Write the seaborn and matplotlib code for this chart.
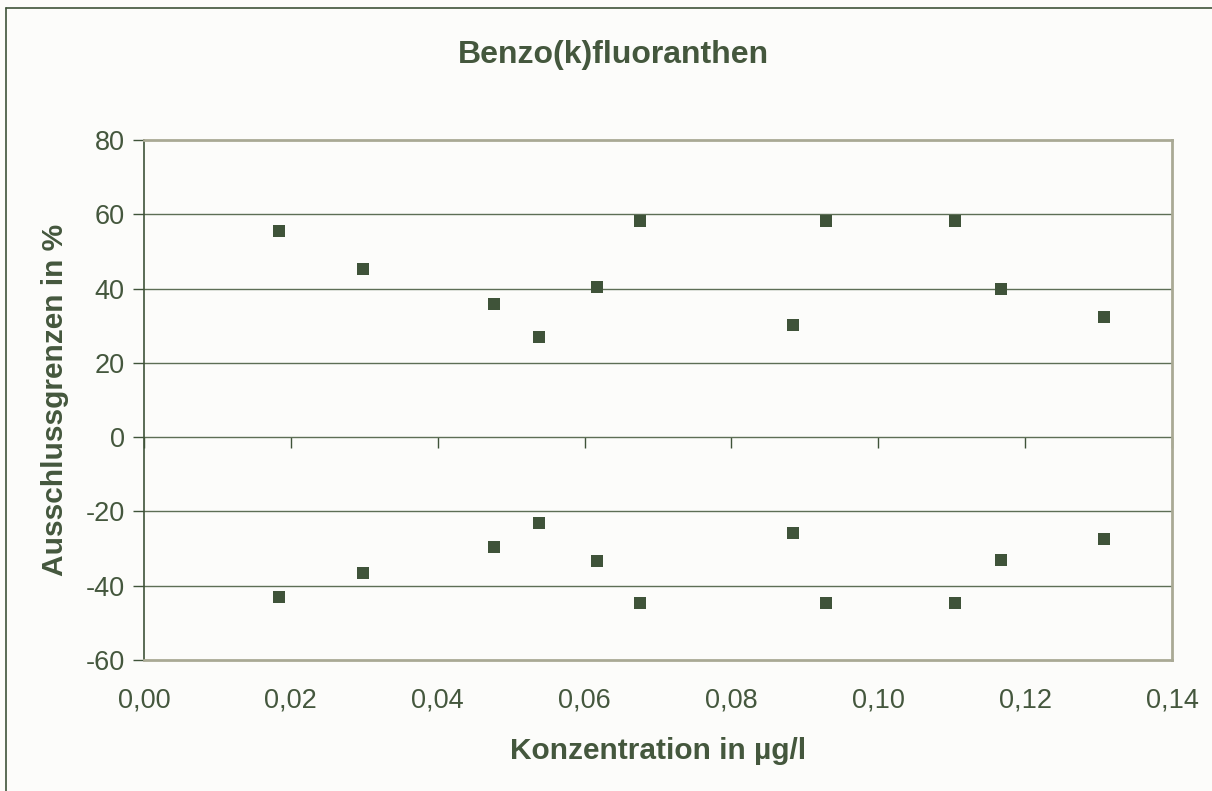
import matplotlib
matplotlib.use("Agg")
import matplotlib.pyplot as plt
from matplotlib.lines import Line2D
import seaborn as sns
import pandas as pd

# data
konz = [0.0184, 0.0298, 0.0477, 0.0538, 0.0617, 0.0675, 0.0884, 0.0929, 0.1104, 0.1167, 0.1307]
obere_grenze = [55.5, 45.3, 35.8, 27.0, 40.4, 58.2, 30.2, 58.2, 58.2, 39.9, 32.3]
untere_grenze = [-43.0, -36.6, -29.6, -23.1, -33.4, -44.7, -25.8, -44.7, -44.7, -33.1, -27.4]
x_ticks = [0.00, 0.02, 0.04, 0.06, 0.08, 0.10, 0.12, 0.14]
y_ticks = [-60, -40, -20, 0, 20, 40, 60, 80]

df = pd.DataFrame({
    "Konzentration": konz * 2,
    "Grenze": obere_grenze + untere_grenze,
})

sns.set_style("white")
plt.rcParams["font.family"] = ["Liberation Sans", "DejaVu Sans"]

green = "#3f5339"
text_col = "#44573d"
frame = "#a9a994"
bg = "#fcfcfa"
W, H = 1212, 791

fig = plt.figure(figsize=(12.12, 7.91), dpi=100, facecolor=bg)
ax = fig.add_axes([144 / W, 1 - 660 / H, 1028 / W, 520 / H])
ax.set_facecolor(bg)

sns.scatterplot(data=df, x="Konzentration", y="Grenze", marker="s", s=80,
                color=green, edgecolor=green, linewidth=0, ax=ax, zorder=3)

ax.set_xlim(0, 0.14)
ax.set_ylim(-60, 80)
ax.set_xticks(x_ticks)
ax.set_xticklabels([f"{t:.2f}".replace(".", ",") for t in x_ticks])
ax.set_yticks(y_ticks)
ax.set_yticklabels([str(t) for t in y_ticks])
ax.set_xlabel("")
ax.set_ylabel("")

for t in y_ticks[1:-1]:
    ax.axhline(t, color="#5d6e55", lw=1.0, zorder=1)

ax.tick_params(axis="x", length=0, pad=20, labelsize=19.5, labelcolor=text_col)
ax.tick_params(axis="y", length=8, width=1, direction="out", color=green,
               pad=6, labelsize=19.5, labelcolor=text_col, left=True)

ax.spines["left"].set_color(green)
ax.spines["left"].set_linewidth(1.2)
for s in ["top", "right", "bottom"]:
    ax.spines[s].set_color(frame)
    ax.spines[s].set_linewidth(2)

# tick marks along the zero line
sec = ax.secondary_xaxis(60 / 140)
sec.set_xticks(x_ticks)
sec.tick_params(axis="x", length=8, width=1, direction="out", color=green,
                labelbottom=False, labeltop=False, bottom=True)
sec.spines["bottom"].set_visible(False)
sec.xaxis.set_ticks_position("bottom")
sec.set_xticklabels([])

fig.text(613 / W, 1 - 55 / H, "Benzo(k)fluoranthen", fontsize=23, fontweight="bold",
         color=text_col, ha="center", va="center")
fig.text(658 / W, 1 - 751 / H, "Konzentration in µg/l", fontsize=21.5, fontweight="bold",
         color=text_col, ha="center", va="center")
fig.text(55 / W, 1 - 400 / H, "Ausschlussgrenzen in %", fontsize=21.5, fontweight="bold",
         color=text_col, ha="center", va="center", rotation=90)

# outer chart border (left and top visible)
fig.add_artist(Line2D([6 / W, 6 / W], [0, 1 - 8 / H], color=green, lw=1.2, transform=fig.transFigure))
fig.add_artist(Line2D([6 / W, 1], [1 - 8 / H, 1 - 8 / H], color=green, lw=1.2, transform=fig.transFigure))

fig.savefig("out.png", dpi=100, facecolor=bg)
